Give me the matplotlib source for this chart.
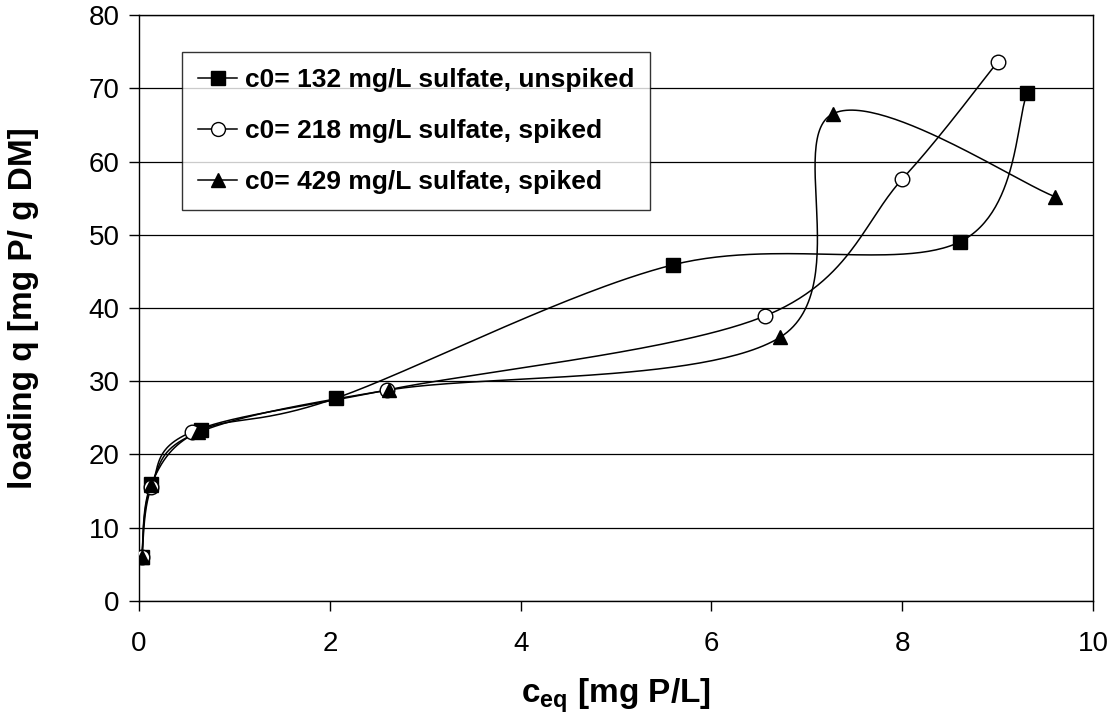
import matplotlib
matplotlib.use("Agg")
import matplotlib.pyplot as plt
import numpy as np

plt.rcParams['font.family'] = ['Liberation Sans', 'DejaVu Sans']
plt.rcParams['mathtext.fontset'] = 'custom'
plt.rcParams['mathtext.rm'] = 'Liberation Sans'
plt.rcParams['mathtext.bf'] = 'Liberation Sans:bold'

# data
x_132 = [0.03, 0.13, 0.65, 2.07, 5.6, 8.6, 9.31]
q_132 = [6.0, 16.0, 23.3, 27.7, 45.9, 49.0, 69.3]
x_218 = [0.03, 0.13, 0.56, 2.6, 6.56, 8.0, 9.0]
q_218 = [6.0, 15.5, 23.1, 28.8, 38.9, 57.6, 73.6]
x_429 = [0.03, 0.13, 0.62, 2.62, 6.72, 7.27, 9.6]
q_429 = [6.0, 15.8, 23.0, 28.8, 36.0, 66.5, 55.2]

labels = ["c0= 132 mg/L sulfate, unspiked",
          "c0= 218 mg/L sulfate, spiked",
          "c0= 429 mg/L sulfate, spiked"]


def smooth(xs, ys, n=60):
    # Excel-like smoothed line: cubic bezier with catmull-rom control points
    p = np.column_stack([xs, ys]).astype(float)
    out = [p[0]]
    t = np.linspace(0, 1, n)[1:, None]
    for i in range(len(p) - 1):
        p0 = p[i - 1] if i > 0 else p[i]
        p1, p2 = p[i], p[i + 1]
        p3 = p[i + 2] if i + 2 < len(p) else p[i + 1]
        c1 = p1 + (p2 - p0) / 6
        c2 = p2 - (p3 - p1) / 6
        seg = (1 - t) ** 3 * p1 + 3 * (1 - t) ** 2 * t * c1 + 3 * (1 - t) * t ** 2 * c2 + t ** 3 * p2
        out.extend(seg)
    out = np.array(out)
    return out[:, 0], out[:, 1]


fig = plt.figure(figsize=(11.12, 7.17), dpi=100)
ax = fig.add_axes([0.125, 0.162, 0.858, 0.817])

series = [(x_132, q_132, 's', 'black'),
          (x_218, q_218, 'o', 'white'),
          (x_429, q_429, '^', 'black')]

for (xs, ys, m, fc), lab in zip(series, labels):
    sx, sy = smooth(xs, ys)
    ax.plot(sx, sy, color='black', lw=1.1, zorder=3)
    ax.plot(xs, ys, linestyle='none', marker=m, markersize=10.5,
            markerfacecolor=fc, markeredgecolor='black', markeredgewidth=1, zorder=4)
    ax.plot([], [], color='black', lw=1.1, marker=m, markersize=10,
            markerfacecolor=fc, markeredgecolor='black', label=lab)

ax.set_xlim(0, 10)
ax.set_ylim(0, 80)
ax.set_xticks(np.arange(0, 11, 2))
ax.set_yticks(np.arange(0, 81, 10))
ax.yaxis.grid(True, color='black', lw=0.9)
ax.set_axisbelow(True)
for s in ax.spines.values():
    s.set_color('black')
    s.set_linewidth(1)
ax.tick_params(direction='out', length=7, width=1, labelsize=20, pad=7)
ax.tick_params(axis='x', pad=15)

ax.set_xlabel(r'$\mathbf{c_{eq}}$ [mg P/L]', fontsize=24, fontweight='bold', labelpad=14)
ax.set_ylabel('loading q [mg P/ g DM]', fontsize=24, fontweight='bold', labelpad=36)

leg = ax.legend(loc='upper left', bbox_to_anchor=(0.045, 0.937),
                prop={'weight': 'bold', 'size': 19}, frameon=True, fancybox=False,
                edgecolor='black', handlelength=1.5, handletextpad=0.3,
                labelspacing=1.03, borderpad=0.6, borderaxespad=0)
leg.get_frame().set_linewidth(1)

fig.savefig('out.png', dpi=100)
